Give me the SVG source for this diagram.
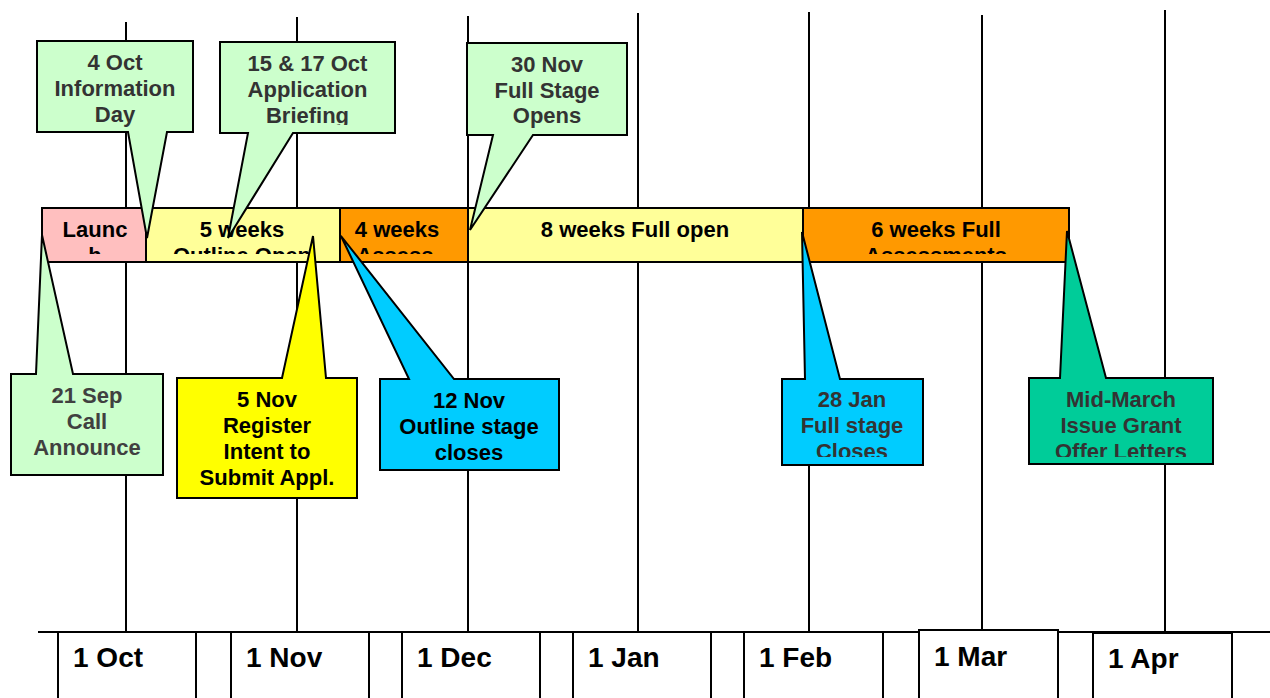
<svg xmlns="http://www.w3.org/2000/svg" width="1270" height="698" viewBox="0 0 1270 698">
<style>
.grid{stroke:#000;stroke-width:2;fill:none}
.bar{stroke:#000;stroke-width:2}
.co{stroke:#000;stroke-width:2;stroke-linejoin:miter}
.ax{fill:#fff;stroke:#000;stroke-width:2}
text{font-family:"Liberation Sans",Arial,sans-serif;font-weight:bold;text-anchor:middle;font-size:22px}
.dk{fill:#333}
.bk{fill:#000}
.lab{font-size:28px;text-anchor:start;fill:#000}
</style>
<defs>
<clipPath id="cl1"><rect x="42" y="208" width="104" height="46"/></clipPath>
<clipPath id="cl2"><rect x="146" y="208" width="194" height="46"/></clipPath>
<clipPath id="cl3"><rect x="340" y="208" width="128" height="46"/></clipPath>
<clipPath id="cl4"><rect x="468" y="208" width="335" height="46"/></clipPath>
<clipPath id="cl5"><rect x="803" y="208" width="266" height="46"/></clipPath>
<clipPath id="cc2"><rect x="220" y="42" width="175" height="83"/></clipPath>
<clipPath id="cc7"><rect x="782" y="379" width="141" height="78"/></clipPath>
<clipPath id="cc8"><rect x="1029" y="378" width="184" height="79"/></clipPath>
</defs>
<rect width="1270" height="698" fill="#fff"/>
<g id="gridlines">
<line class="grid" x1="126" y1="22" x2="126" y2="632"/>
<line class="grid" x1="297" y1="17" x2="297" y2="632"/>
<line class="grid" x1="468" y1="16" x2="468" y2="632"/>
<line class="grid" x1="638" y1="13" x2="638" y2="632"/>
<line class="grid" x1="809" y1="12" x2="809" y2="632"/>
<line class="grid" x1="982" y1="15" x2="982" y2="632"/>
<line class="grid" x1="1165" y1="10" x2="1165" y2="632"/>
<line class="grid" x1="38" y1="632" x2="1270" y2="632"/>
</g>
<g id="axis">
<g id="m-oct"><rect class="ax" x="58" y="632" width="138" height="80"/><text class="lab" x="73" y="667">1 Oct</text></g>
<g id="m-nov"><rect class="ax" x="231" y="632" width="138" height="80"/><text class="lab" x="246" y="667">1 Nov</text></g>
<g id="m-dec"><rect class="ax" x="402" y="632" width="138" height="80"/><text class="lab" x="417" y="667">1 Dec</text></g>
<g id="m-jan"><rect class="ax" x="573" y="632" width="138" height="80"/><text class="lab" x="588" y="667">1 Jan</text></g>
<g id="m-feb"><rect class="ax" x="744" y="632" width="139" height="80"/><text class="lab" x="759" y="667">1 Feb</text></g>
<g id="m-mar"><rect class="ax" x="919" y="630" width="139" height="82"/><text class="lab" x="934" y="666">1 Mar</text></g>
<g id="m-apr"><rect class="ax" x="1093" y="633" width="139" height="80"/><text class="lab" x="1108" y="668">1 Apr</text></g>
</g>
<g id="bars">
<g id="bar-launch"><rect class="bar" x="42" y="208" width="104" height="54" fill="#FFBFBF"/>
<g clip-path="url(#cl1)" class="bk"><text x="95" y="237">Launc</text><text x="95" y="262.5">h</text></g></g>
<g id="bar-outline"><rect class="bar" x="146" y="208" width="194" height="54" fill="#FFFF99"/>
<g clip-path="url(#cl2)" class="bk"><text x="242" y="237">5 weeks</text><text x="242" y="262.5">Outline Open</text></g></g>
<g id="bar-assess"><rect class="bar" x="340" y="208" width="128" height="54" fill="#FF9900"/>
<g clip-path="url(#cl3)" class="bk"><text x="397" y="237">4 weeks</text><text x="395" y="262.5">Assess</text></g></g>
<g id="bar-fullopen"><rect class="bar" x="468" y="208" width="335" height="54" fill="#FFFF99"/>
<g clip-path="url(#cl4)" class="bk"><text x="635" y="237">8 weeks Full open</text></g></g>
<g id="bar-fullassess"><rect class="bar" x="803" y="208" width="266" height="54" fill="#FF9900"/>
<g clip-path="url(#cl5)" class="bk"><text x="936" y="237">6 weeks Full</text><text x="936" y="262.5">Assessments</text></g></g>
</g>
<g id="callout-info">
<path class="co" fill="#CCFFCC" d="M37,41 H193 V132 H167 L147,238 L128,132 H37 Z"/>
<g class="dk"><text x="115" y="70">4 Oct</text><text x="115" y="96">Information</text><text x="115" y="122">Day</text></g>
</g>
<g id="callout-briefing">
<path class="co" fill="#CCFFCC" d="M220,42 H395 V133 H293 L228,238 L248,133 H220 Z"/>
<g class="dk" clip-path="url(#cc2)"><text x="307.5" y="71">15 &amp; 17 Oct</text><text x="307.5" y="97">Application</text><text x="307.5" y="123">Briefing</text></g>
</g>
<g id="callout-fullopens">
<path class="co" fill="#CCFFCC" d="M467,43 H627 V135 H533 L470,230 L493,135 H467 Z"/>
<g class="dk"><text x="547" y="72">30 Nov</text><text x="547" y="98">Full Stage</text><text x="547" y="123">Opens</text></g>
</g>
<g id="callout-call">
<path class="co" fill="#CCFFCC" d="M11,374 H36 L42,235 L73,374 H163 V475 H11 Z"/>
<g fill="#404040"><text x="87" y="403">21 Sep</text><text x="87" y="429">Call</text><text x="87" y="455">Announce</text></g>
</g>
<g id="callout-register">
<path class="co" fill="#FFFF00" d="M177,378 H282 L313,236 L326,378 H357 V498 H177 Z"/>
<g class="bk"><text x="267" y="407">5 Nov</text><text x="267" y="433">Register</text><text x="267" y="459">Intent to</text><text x="267" y="485">Submit Appl.</text></g>
</g>
<g id="callout-outlinecloses">
<path class="co" fill="#00CCFF" d="M380,379 H409 L341,236 L454,379 H559 V470 H380 Z"/>
<g class="bk"><text x="469" y="408">12 Nov</text><text x="469" y="434">Outline stage</text><text x="469" y="460">closes</text></g>
</g>
<g id="callout-fullcloses">
<path class="co" fill="#00CCFF" d="M782,379 H805 L802,232 L840,379 H923 V465 H782 Z"/>
<g class="dk" clip-path="url(#cc7)"><text x="852" y="407">28 Jan</text><text x="852" y="433">Full stage</text><text x="852" y="458.5">Closes</text></g>
</g>
<g id="callout-offer">
<path class="co" fill="#00CC99" d="M1029,378 H1060 L1067,231 L1106,378 H1213 V464 H1029 Z"/>
<g class="dk" clip-path="url(#cc8)"><text x="1121" y="407">Mid-March</text><text x="1121" y="433">Issue Grant</text><text x="1121" y="458.5">Offer Letters</text></g>
</g>
</svg>
